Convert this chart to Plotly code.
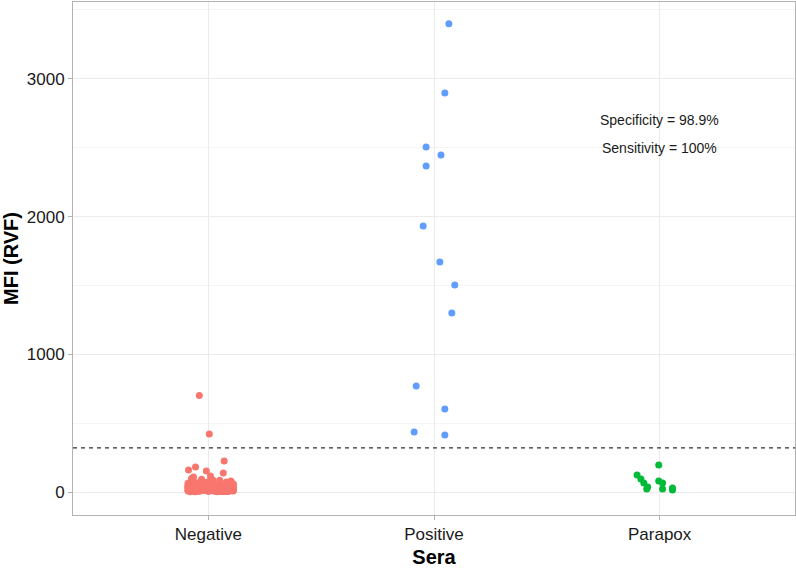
import plotly.graph_objects as go

categories = ["Negative", "Positive", "Parapox"]
colors = {"Negative": "#F8766D", "Positive": "#619CFF", "Parapox": "#00BA38"}
cutoff = 320

# Negative sera: MFI values and horizontal jitter offsets (category units)
neg_values = [700, 421, 225, 182, 160, 153, 138, 109, 116, 92, 85, 98, 80, 88,
    12, 35, 8, 48, 22, 5, 61, 18, 30, 9, 44, 27, 15, 52, 3, 38, 20, 66, 11,
    25, 7, 41, 16, 57, 29, 4, 33, 19, 70, 13, 46, 24, 6, 39, 58, 10, 31, 21,
    49, 14, 2, 36, 26, 63, 17, 42, 8, 28, 54, 12, 34, 75, 5, 23, 45, 15, 37,
    9, 30, 55, 19, 3, 40, 27, 68, 11, 47, 21, 6, 32, 16, 59, 25, 43, 7, 18,
    35, 50, 13, 24, 62, 4, 38, 20, 29, 10, 53, 17, 44, 26, 1, 33, 72, 14, 41,
    22, 8, 46, 31, 15, 56, 28, 6, 37, 19, 64, 12, 39, 24, 48, 3, 30, 51, 17,
    42, 27, 5, 34, 60, 13, 23, 45, 9, 36, 18, 58, 2, 29, 40, 16, 67, 25, 11,
    14, 52, 31, 7, 26, 43, 20, 65, 10, 35, 48, 4, 28, 17, 55, 38, 12, 22, 46,
    33, 6, 19, 41, 28, 71, 15, 36, 24, 9, 57, 30, 13, 44, 21, 3, 39, 26, 50]
neg_jitter = [-0.04, 0.004, 0.07, -0.057, -0.088, -0.009, 0.066, -0.066, 0.009, -0.03, 0.05, -0.075, 0.1, 0.02,
    -0.09, 0.03, -0.05, 0.11, -0.02, 0.07, -0.08, 0.01, 0.09, -0.06, 0.04, -0.03, 0.10, -0.07, 0.06, -0.01, 0.08, -0.04, 0.02,
    0.05, -0.09, 0.00, 0.10, -0.05, 0.03, 0.08, -0.07, 0.06, -0.02, 0.11, -0.08, 0.02, -0.04, 0.09, -0.06, 0.04, -0.01, 0.07,
    -0.03, 0.08, -0.06, 0.01, 0.10, -0.08, 0.05, -0.02, 0.11, -0.09, 0.03, 0.07, -0.05, 0.00, 0.09, -0.07, 0.04, -0.04, 0.06,
    0.02, -0.07, 0.09, -0.03, 0.06, -0.09, 0.11, 0.01, -0.05, 0.08, -0.01, 0.04, -0.08, 0.10, -0.04, 0.07, -0.06, 0.03, 0.00,
    -0.08, 0.06, -0.02, 0.10, 0.02, -0.06, 0.09, -0.04, 0.05, 0.11, -0.09, 0.01, 0.07, -0.03, 0.04, -0.07, 0.08, -0.01, 0.03,
    0.09, -0.04, 0.05, -0.08, 0.02, 0.11, -0.06, 0.07, -0.01, 0.04, -0.09, 0.10, -0.03, 0.06, -0.07, 0.00, 0.08, -0.05, 0.03,
    -0.06, 0.10, 0.03, -0.09, 0.07, -0.02, 0.05, -0.07, 0.09, 0.01, -0.04, 0.11, -0.08, 0.04, -0.01, 0.08, -0.05, 0.06, 0.02,
    0.07, -0.01, 0.10, -0.06, 0.04, -0.09, 0.08, 0.00, -0.03, 0.11, -0.07, 0.05, 0.02, -0.05, 0.09, -0.08, 0.06, -0.02, 0.03,
    -0.05, 0.09, -0.08, 0.04, 0.11, -0.03, 0.06, -0.07, 0.01, 0.08, -0.04, 0.10, -0.09, 0.03, 0.07, -0.06, 0.00, 0.05, -0.02]

pos_values = [3400, 2898, 2505, 2447, 2367, 1932, 1670, 1503, 1300, 770, 603, 436, 414]
pos_jitter = [0.066, 0.048, -0.035, 0.031, -0.035, -0.048, 0.026, 0.092, 0.079, -0.079, 0.048, -0.088, 0.048]

para_values = [196, 123, 94, 65, 36, 22, 80, 65, 22, 29, 15]
para_jitter = [-0.004, -0.10, -0.083, -0.07, -0.053, -0.057, -0.004, 0.013, 0.013, 0.057, 0.057]

annotations_text = ["Specificity = 98.9%", "Sensitivity = 100%"]
annotations_y = [2700, 2500]

groups = [("Negative", neg_values, neg_jitter),
          ("Positive", pos_values, pos_jitter),
          ("Parapox", para_values, para_jitter)]

fig = go.Figure()
for i, (name, vals, jit) in enumerate(groups):
    fig.add_trace(go.Scatter(
        x=[i + 1 + j for j in jit], y=vals, mode="markers", name=name,
        marker=dict(size=7, color=colors[name], line=dict(width=0)),
        showlegend=False))

fig.add_shape(type="line", xref="paper", yref="y", x0=0, x1=1, y0=cutoff, y1=cutoff,
              line=dict(color="#333333", width=1.3, dash="4px,4px"))

for t, yv in zip(annotations_text, annotations_y):
    fig.add_annotation(x=3, y=yv, text=t, showarrow=False,
                       font=dict(size=14, color="#1a1a1a", family="Liberation Sans"))

font = "Liberation Sans"
fig.update_layout(
    width=796, height=569,
    margin=dict(l=73, r=1, t=2, b=54),
    plot_bgcolor="white", paper_bgcolor="white",
    font=dict(family=font),
    xaxis=dict(range=[0.4, 3.6], tickvals=[1, 2, 3], ticktext=categories, automargin=False,
               showgrid=True, gridcolor="#ebebeb", gridwidth=1.2,
               zeroline=False, showline=True, linecolor="#b3b3b3", mirror=True,
               ticks="outside", ticklen=4, tickcolor="#b3b3b3",
               tickfont=dict(size=17, color="#1a1a1a", family=font),
               title=dict(text="<b>Sera</b>", font=dict(size=20, color="#000000", family=font), standoff=6)),
    yaxis=dict(range=[-167, 3558], tick0=0, dtick=1000, automargin=False,
               showgrid=True, gridcolor="#ebebeb", gridwidth=1.2,
               minor=dict(dtick=500, showgrid=True, gridcolor="#f4f4f4", gridwidth=0.8),
               zeroline=False, showline=True, linecolor="#b3b3b3", mirror=True,
               ticks="outside", ticklen=4, tickcolor="#b3b3b3",
               tickfont=dict(size=17, color="#1a1a1a", family=font),
               title=dict(text="<b>MFI (RVF)</b>", font=dict(size=20, color="#000000", family=font), standoff=4)),
)

fig.write_html("out.html", config={"displayModeBar": False},
               post_script="document.body.style.margin='0';document.body.style.overflow='hidden';")
